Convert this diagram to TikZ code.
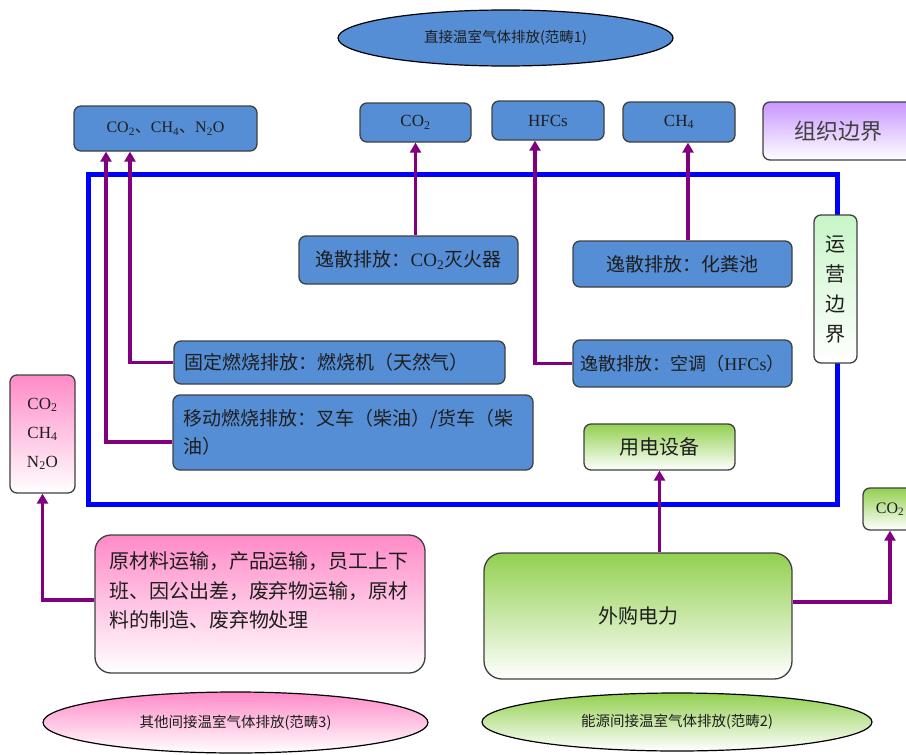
\documentclass[tikz,border=0pt]{standalone}
\usepackage{fontspec}
\setmainfont{Noto Sans CJK SC}
\newfontfamily\tnr{Liberation Serif}
\usetikzlibrary{arrows.meta,shapes.geometric}
\definecolor{boxblue}{RGB}{85,142,213}
\definecolor{edgegray}{RGB}{64,64,64}
\definecolor{flowpurple}{RGB}{128,0,128}
\definecolor{frameblue}{RGB}{0,0,255}
\definecolor{leafgreen}{RGB}{146,208,80}
\definecolor{rosepink}{RGB}{255,138,200}
\definecolor{lilac}{RGB}{200,150,255}
\definecolor{mint}{RGB}{200,245,200}
\definecolor{inkgray}{RGB}{30,30,30}
\newcommand{\sbs}[1]{\textsubscript{#1}}

\begin{document}
\begin{tikzpicture}[x=1pt,y=-1pt,
  box/.style={draw=edgegray,line width=1.3pt,rounded corners=7pt,inner sep=0pt,
    text=inkgray,font=\fontsize{19}{26}\selectfont},
  bluebox/.style={box,fill=boxblue},
  greenbox/.style={box,top color=leafgreen,bottom color=white},
  pinkbox/.style={box,top color=rosepink,bottom color=white},
  fanchou/.style={ellipse,draw=black,line width=1.2pt,inner sep=0pt,
    text=inkgray,font=\fontsize{14.5}{17}\selectfont},
  flow/.style={draw=flowpurple,line width=3.5pt,-{Triangle[width=11pt,length=10pt]}}]
\useasboundingbox (0,0) rectangle (906,755);
\draw[frameblue,line width=5pt] (88,174) rectangle (837,504);
\node[fanchou,fill=boxblue,minimum width=335,minimum height=56] (fc1) at (505.5,38)
  {直接温室气体排放(范畴1)};
\node[bluebox,minimum width=183,minimum height=45,font=\fontsize{16}{20}\selectfont]
  (ghg1) at (165.5,128.5) {{\tnr CO\sbs{2}}、{\tnr CH\sbs{4}}、{\tnr N\sbs{2}O}};
\node[bluebox,minimum width=111,minimum height=39,font=\tnr\fontsize{17}{20}\selectfont]
  (co2a) at (415.5,122.5) {CO\sbs{2}};
\node[bluebox,minimum width=112,minimum height=39,font=\tnr\fontsize{17}{20}\selectfont]
  (hfcs) at (548,120.5) {HFCs};
\node[bluebox,minimum width=112,minimum height=40,font=\tnr\fontsize{17}{20}\selectfont]
  (ch4) at (679,122) {CH\sbs{4}};
\node[box,top color=lilac,bottom color=white,minimum width=150,minimum height=58,
  text=darkgray,font=\fontsize{22}{26}\selectfont] (zuzhi) at (838,131) {组织边界};
\node[bluebox,minimum width=219,minimum height=48] (miehuo) at (408.5,260)
  {逸散排放：{\tnr CO\sbs{2}}灭火器};
\node[bluebox,minimum width=219,minimum height=46] (fenchi) at (682.5,264)
  {逸散排放：化粪池};
\node[box,top color=mint,bottom color=white,minimum width=43,minimum height=148,
  align=center,font=\fontsize{20}{30}\selectfont] (yunying) at (835.5,289)
  {运\\营\\边\\界};
\node[bluebox,minimum width=331,minimum height=43,text width=311,align=left]
  (guding) at (339.5,362.5) {固定燃烧排放：燃烧机（天然气）};
\node[bluebox,minimum width=219,minimum height=47,font=\fontsize{18}{22}\selectfont]
  (kongtiao) at (682.5,363.5) {逸散排放：空调（{\tnr HFCs}）};
\node[bluebox,minimum width=360,minimum height=75,text width=340,align=left,
  font=\fontsize{19}{28}\selectfont] (yidong) at (353,432.5)
  {移动燃烧排放：叉车（柴油）/货车（柴\\油）};
\node[greenbox,minimum width=151,minimum height=46,font=\fontsize{20}{24}\selectfont]
  (yongdian) at (659.5,447) {用电设备};
\node[pinkbox,minimum width=65,minimum height=118,align=center,
  font=\tnr\fontsize{17}{29}\selectfont] (ghg3) at (42.5,434)
  {CO\sbs{2}\\CH\sbs{4}\\N\sbs{2}O};
\node[greenbox,minimum width=54,minimum height=42,font=\tnr\fontsize{16}{20}\selectfont]
  (co2b) at (890,509) {CO\sbs{2}};
\node[pinkbox,minimum width=330,minimum height=138,rounded corners=16pt] (yuan)
  at (260,604) {\begin{minipage}[c][104pt][t]{302pt}\fontsize{20}{29.5}\selectfont
  原材料运输，产品运输，员工上下\\班、因公出差，废弃物运输，原材\\料的制造、废弃物处理\end{minipage}};
\node[greenbox,minimum width=308,minimum height=126,rounded corners=18pt,
  font=\fontsize{20}{24}\selectfont] (waigou) at (638,616) {外购电力};
\node[fanchou,top color=rosepink,bottom color=white,minimum width=385,minimum height=61]
  (fc3) at (235.5,722.5) {其他间接温室气体排放(范畴3)};
\node[fanchou,top color=leafgreen,bottom color=white,minimum width=390,minimum height=58]
  (fc2) at (677,722) {能源间接温室气体排放(范畴2)};
\coordinate (p1) at ([xshift=-35.5]ghg1.south);
\coordinate (p2) at ([xshift=-59.5]ghg1.south);
\coordinate (p3) at ([xshift=-13]hfcs.south);
\coordinate (p4) at ([xshift=9]ch4.south);
\draw[flow] (guding.west) -| (p1);
\draw[flow] ([yshift=-9.5]yidong.west) -| (p2);
\draw[flow] (miehuo.north -| co2a.south) -- (co2a.south);
\draw[flow] (kongtiao.west) -| (p3);
\draw[flow] (fenchi.north -| p4) -- (p4);
\draw[flow] (waigou.north -| yongdian.south) -- (yongdian.south);
\draw[flow] ([yshift=14]waigou.east) -| (co2b.south);
\draw[flow] ([yshift=4]yuan.west) -| (ghg3.south);
\end{tikzpicture}
\end{document}
